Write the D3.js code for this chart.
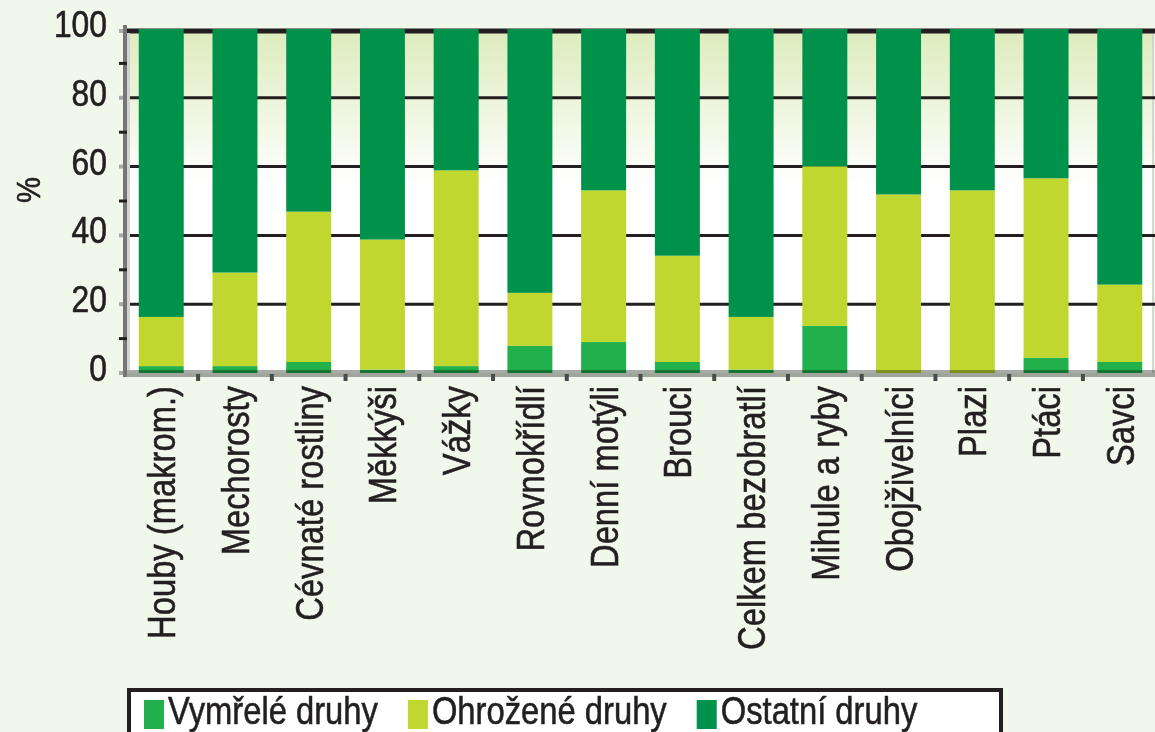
<!DOCTYPE html>
<html>
<head>
<meta charset="utf-8">
<script src="https://d3js.org/d3.v7.min.js"></script>
<style>
    body { margin: 0; background: #F2F7EC; }
    svg { display: block; }
    text { font-family: "Liberation Sans", Arial, sans-serif; fill: #231F20; stroke: #231F20; stroke-width: 0.6px; }
</style>
</head>
<body>
<svg width="1155" height="732"></svg>
<script>
// categories and stacked shares (%)
var categories = ["Houby (makrom.)", "Mechorosty", "Cévnaté rostliny", "Měkkýši", "Vážky",
    "Rovnokřídlí", "Denní motýli", "Brouci", "Celkem bezobratlí", "Mihule a ryby",
    "Obojživelníci", "Plazi", "Ptáci", "Savci"];
var vymrele  = [2, 2, 3.2, 1, 2, 7.9, 9, 3.2, 1, 13.7, 0, 0, 4.4, 3.2];
var ohrozene = [14.3, 27.2, 43.7, 37.8, 56.9, 15.4, 44.1, 30.9, 15.3, 46.4, 51.9, 53.1, 52.2, 22.5];
var ostatni  = [83.7, 70.8, 53.1, 61.2, 41.1, 76.7, 46.9, 65.9, 83.7, 39.9, 48.1, 46.9, 43.4, 74.3];
var seriesNames = ["Vymřelé druhy", "Ohrožené druhy", "Ostatní druhy"];
var yTicks = [0, 20, 40, 60, 80, 100];
var yMinor = [10, 30, 50, 70, 90];

var colors = ["#21B04B", "#C0D72F", "#00914A"];
var ink = "#231F20";

var svg = d3.select("svg");

var x = d3.scaleBand().domain(categories).range([124, 1157]).paddingInner(0.39).paddingOuter(0.2);
var y = d3.scaleLinear().domain([0, 100]).range([373, 29]);

var rows = categories.map(function (c, i) {
    return { cat: c, v: vymrele[i], o: ohrozene[i], s: ostatni[i] };
});
var stack = d3.stack().keys(["v", "o", "s"]);
var layers = stack(rows);

// plot background gradient
var defs = svg.append("defs");
var grad = defs.append("linearGradient").attr("id", "bg")
    .attr("x1", 0).attr("y1", 0).attr("x2", 0).attr("y2", 1);
grad.append("stop").attr("offset", 0).attr("stop-color", "#DDEBBC");
grad.append("stop").attr("offset", 0.45).attr("stop-color", "#FFFFFF");

svg.append("rect")
    .attr("x", 127).attr("y", y(100))
    .attr("width", 1153 - 127).attr("height", y(0) - y(100))
    .attr("fill", "url(#bg)");

svg.append("line")
    .attr("x1", 1153).attr("x2", 1153).attr("y1", y(100)).attr("y2", y(0))
    .attr("stroke", "#C8CBC4").attr("stroke-width", 1.5);

// gridlines
svg.append("g").selectAll("line")
    .data(yTicks.filter(function (d) { return d > 0; }))
    .join("line")
    .attr("x1", 123).attr("x2", 1155)
    .attr("y1", function (d) { return d === 100 ? y(d) + 2 : y(d); })
    .attr("y2", function (d) { return d === 100 ? y(d) + 2 : y(d); })
    .attr("stroke", ink)
    .attr("stroke-width", function (d) { return d === 100 ? 5 : 3; });

// bars
svg.append("g").selectAll("g")
    .data(layers)
    .join("g")
    .attr("fill", function (d, i) { return colors[i]; })
    .selectAll("rect")
    .data(function (d) { return d; })
    .join("rect")
    .attr("x", function (d) { return x(d.data.cat); })
    .attr("width", x.bandwidth())
    .attr("y", function (d) { return y(d[1]); })
    .attr("height", function (d) { return y(d[0]) - y(d[1]); });

// category axis band
svg.append("rect")
    .attr("x", 123).attr("y", 370).attr("width", 1155 - 123).attr("height", 7)
    .attr("fill", "#A8AAA6")
    .style("mix-blend-mode", "multiply");

var step = x.step();
svg.append("g").selectAll("rect")
    .data(categories.slice(1))
    .join("rect")
    .attr("x", function (d) { return x(d) - step * x.paddingInner() / 2 - 2; })
    .attr("y", 374).attr("width", 4).attr("height", 7)
    .attr("fill", "#4a4a4a");

// value axis
svg.append("rect").attr("x", 123).attr("y", 25).attr("width", 4).attr("height", 352).attr("fill", "#767676");
svg.append("rect").attr("x", 127).attr("y", 33).attr("width", 3).attr("height", 337).attr("fill", "#D2D3D0");

svg.append("g").selectAll("rect")
    .data(yMinor)
    .join("rect")
    .attr("x", 119).attr("y", function (d) { return y(d) - 1.5; })
    .attr("width", 8).attr("height", 3)
    .attr("fill", ink);

svg.append("g").selectAll("rect")
    .data(yTicks)
    .join("rect")
    .attr("x", 119).attr("y", function (d) { return (d === 100 ? y(d) + 2 : y(d)) - 2; })
    .attr("width", 4).attr("height", 4)
    .attr("fill", "#A9A9A9");

svg.append("g").selectAll("text")
    .data(yTicks)
    .join("text")
    .attr("transform", function (d) { return "translate(107," + (y(d) + 8) + ") scale(0.86,1)"; })
    .attr("text-anchor", "end")
    .style("font-size", "37px")
    .text(function (d) { return d; });

svg.append("text")
    .attr("transform", "translate(40,190) rotate(-90) scale(0.86,1)")
    .attr("text-anchor", "middle")
    .style("font-size", "34px")
    .text("%");

// category labels
svg.append("g").selectAll("text")
    .data(categories)
    .join("text")
    .attr("transform", function (d) {
        return "translate(" + (x(d) + x.bandwidth() / 2 + 14) + ",386) rotate(-90) scale(0.84,1)";
    })
    .attr("text-anchor", "end")
    .style("font-size", "39px")
    .text(function (d) { return d; });

// legend
svg.append("rect")
    .attr("x", 129).attr("y", 690).attr("width", 872).attr("height", 70)
    .attr("fill", "#FFFFFF").attr("stroke", ink).attr("stroke-width", 4);

var lx = 144;
seriesNames.forEach(function (name, i) {
    svg.append("rect")
        .attr("x", lx).attr("y", 700).attr("width", 20).attr("height", 29)
        .attr("fill", colors[i]);
    var t = svg.append("text")
        .attr("transform", "translate(" + (lx + 24) + ",724) scale(0.84,1)")
        .style("font-size", "39px")
        .text(name);
    lx = lx + 24 + t.node().getComputedTextLength() * 0.84 + 30;
});
</script>
</body>
</html>
